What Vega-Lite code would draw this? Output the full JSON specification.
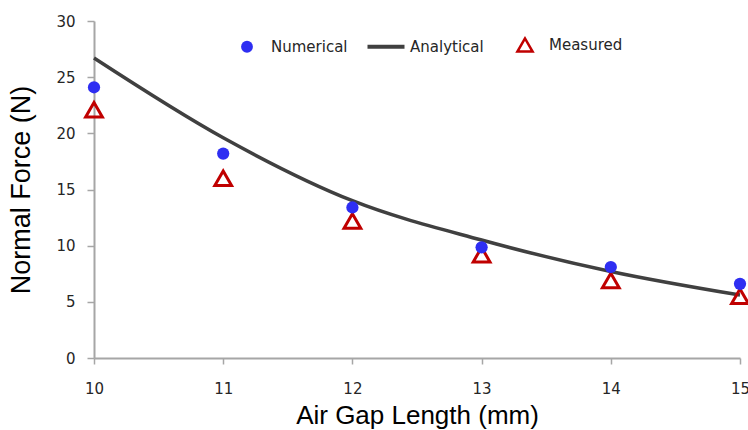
{
  "$schema": "https://vega.github.io/schema/vega-lite/v6.json",
  "width": 646,
  "height": 337,
  "autosize": {"type": "none"},
  "padding": {"left": 94, "top": 21, "right": 8, "bottom": 72},
  "background": "white",
  "config": {
    "view": {"stroke": null},
    "axis": {
      "grid": false,
      "domainColor": "#a6a6a6",
      "domainWidth": 2,
      "tickColor": "#a6a6a6",
      "tickWidth": 1.5,
      "labelFont": "DejaVu Sans",
      "labelFontSize": 15,
      "labelColor": "#262626",
      "titleFont": "Liberation Sans",
      "titleFontWeight": "normal",
      "titleColor": "#000000"
    }
  },
  "data": {
    "values": [
      {"gap": 10, "force": 26.7, "series": "Analytical"},
      {"gap": 11, "force": 19.6, "series": "Analytical"},
      {"gap": 12, "force": 14.0, "series": "Analytical"},
      {"gap": 13, "force": 10.5, "series": "Analytical"},
      {"gap": 14, "force": 7.7, "series": "Analytical"},
      {"gap": 15, "force": 5.6, "series": "Analytical"},
      {"gap": 10, "force": 24.1, "series": "Numerical"},
      {"gap": 11, "force": 18.2, "series": "Numerical"},
      {"gap": 12, "force": 13.4, "series": "Numerical"},
      {"gap": 13, "force": 9.85, "series": "Numerical"},
      {"gap": 14, "force": 8.1, "series": "Numerical"},
      {"gap": 15, "force": 6.6, "series": "Numerical"},
      {"gap": 10, "force": 22.1, "series": "Measured"},
      {"gap": 11, "force": 16.0, "series": "Measured"},
      {"gap": 12, "force": 12.2, "series": "Measured"},
      {"gap": 13, "force": 9.2, "series": "Measured"},
      {"gap": 14, "force": 6.9, "series": "Measured"},
      {"gap": 15, "force": 5.5, "series": "Measured"}
    ]
  },
  "encoding": {
    "x": {
      "field": "gap",
      "type": "quantitative",
      "scale": {"domain": [10, 15], "nice": false, "zero": false},
      "axis": {
        "title": "Air Gap Length (mm)",
        "titleFontSize": 26,
        "titlePadding": 6,
        "values": [10, 11, 12, 13, 14, 15],
        "tickSize": 6,
        "labelPadding": 17,
        "labelFlush": false
      }
    },
    "y": {
      "field": "force",
      "type": "quantitative",
      "scale": {"domain": [0, 30], "nice": false},
      "axis": {
        "title": "Normal Force (N)",
        "titleFontSize": 27,
        "titlePadding": 20,
        "values": [0, 5, 10, 15, 20, 25, 30],
        "tickSize": 7,
        "labelPadding": 12
      }
    },
    "color": {
      "field": "series",
      "type": "nominal",
      "scale": {
        "domain": ["Numerical", "Analytical", "Measured"],
        "range": ["#2e2ef2", "#404040", "#c00000"]
      },
      "legend": {
        "title": null,
        "orient": "none",
        "direction": "horizontal",
        "legendX": 135,
        "legendY": 16,
        "gridAlign": "all",
        "columnPadding": 11,
        "labelFont": "DejaVu Sans",
        "labelFontSize": 15,
        "labelColor": "#262626",
        "encode": {
          "symbols": {
            "update": {
              "x": {"value": 18},
              "shape": {"signal": "datum.value === 'Analytical' ? 'stroke' : datum.value === 'Numerical' ? 'circle' : 'triangle-up'"},
              "size": {"signal": "datum.value === 'Analytical' ? 1369 : datum.value === 'Numerical' ? 140 : 230"},
              "fill": {"signal": "datum.value === 'Numerical' ? '#2e2ef2' : '#ffffff'"},
              "fillOpacity": {"signal": "datum.value === 'Numerical' ? 1 : 0"},
              "stroke": {"signal": "datum.value === 'Numerical' ? '#2e2ef2' : datum.value === 'Analytical' ? '#404040' : '#c00000'"},
              "strokeWidth": {"signal": "datum.value === 'Analytical' ? 4 : datum.value === 'Measured' ? 2.5 : 0"},
              "opacity": {"value": 1}
            }
          },
          "labels": {
            "update": {
              "x": {"value": 42}
            }
          }
        }
      }
    }
  },
  "layer": [
    {
      "transform": [{"filter": "datum.series === 'Analytical'"}],
      "mark": {"type": "line", "interpolate": "monotone", "strokeWidth": 3.5, "clip": false}
    },
    {
      "transform": [{"filter": "datum.series === 'Measured'"}],
      "mark": {"type": "point", "shape": "triangle-up", "size": 280, "filled": false, "strokeWidth": 3, "opacity": 1, "clip": false}
    },
    {
      "transform": [{"filter": "datum.series === 'Numerical'"}],
      "mark": {"type": "point", "shape": "circle", "size": 150, "filled": true, "opacity": 1, "clip": false}
    }
  ]
}
